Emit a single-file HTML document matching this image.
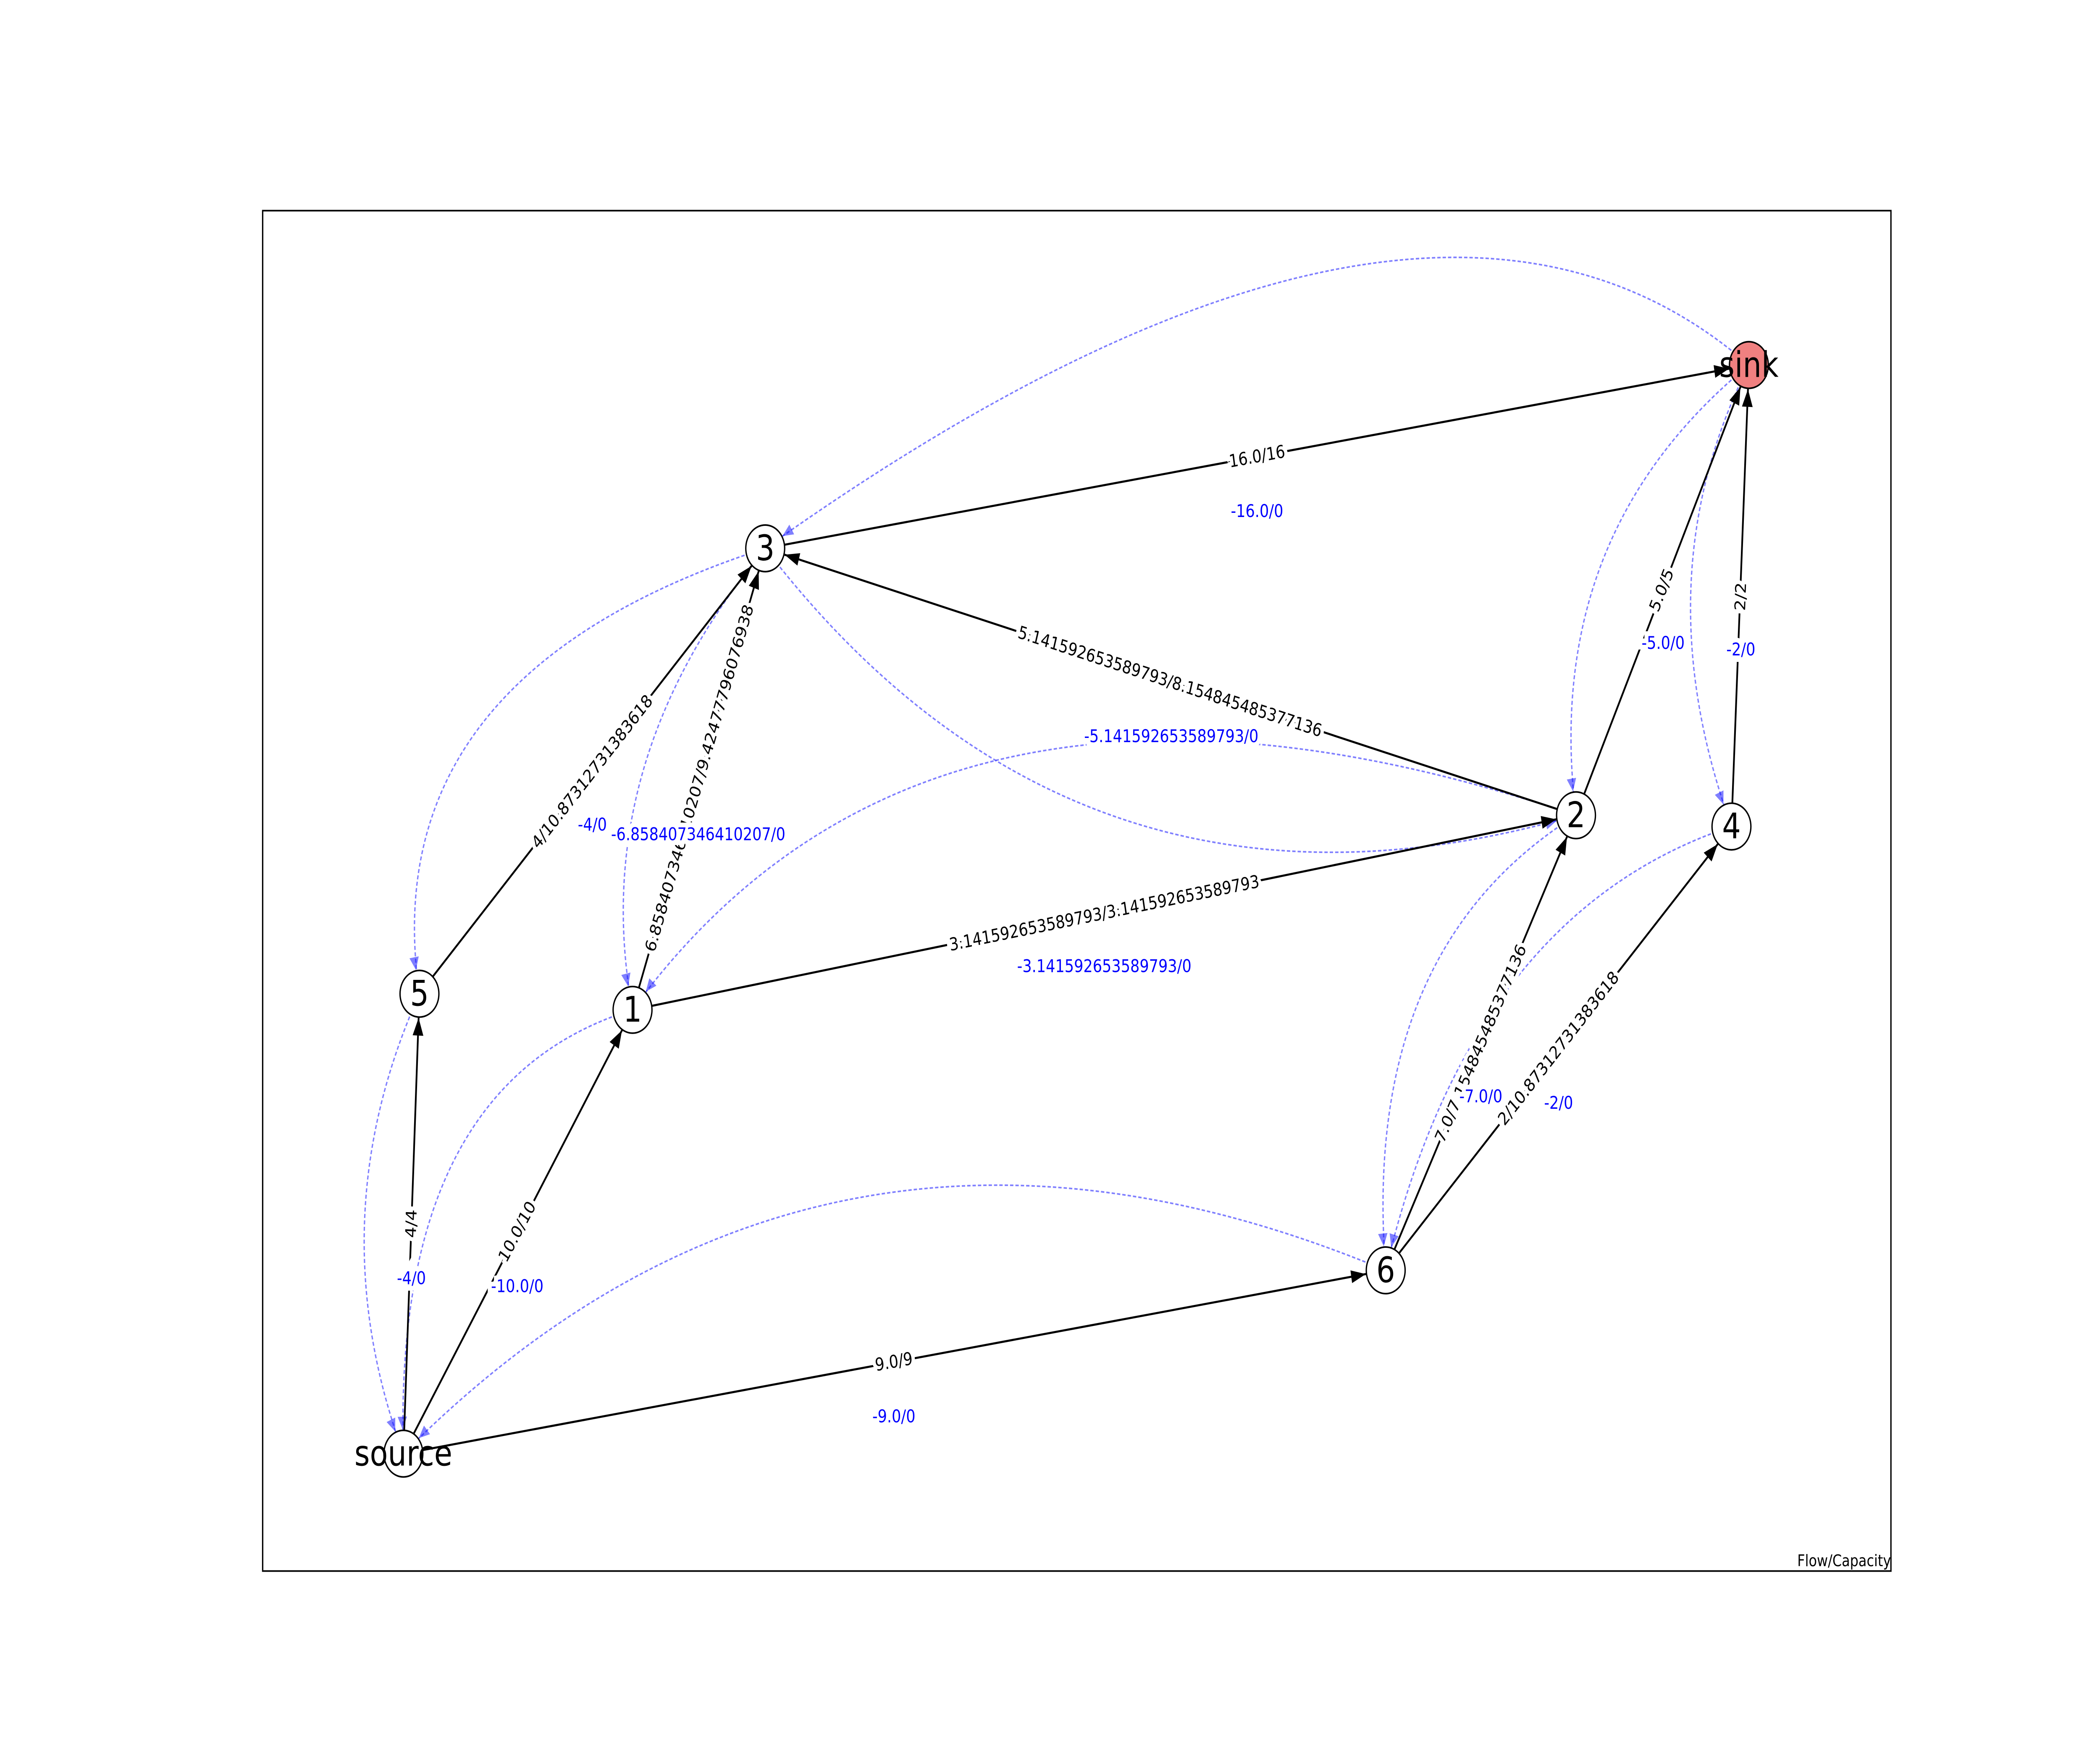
<!DOCTYPE html>
<html><head><meta charset="utf-8"><style>html,body{margin:0;padding:0;background:#fff;overflow:hidden;width:100vw;height:100vh}svg{display:block;width:100vw;height:100vh}</style></head>
<body>
<svg xmlns="http://www.w3.org/2000/svg" viewBox="0 0 1567 1097" preserveAspectRatio="none" font-family="'DejaVu Sans','Liberation Sans',sans-serif">
<defs>
<marker id="ab" markerUnits="userSpaceOnUse" markerWidth="20" markerHeight="20" refX="15" refY="0" orient="auto" overflow="visible"><path d="M0,0 L-11,-4 L-11,4 Z" fill="#000"/></marker>
<marker id="abl" markerUnits="userSpaceOnUse" markerWidth="20" markerHeight="20" refX="15" refY="0" orient="auto" overflow="visible"><path d="M0,0 L-8,-3.5 L-8,3.5 Z" fill="rgba(0,0,255,0.5)"/></marker>
</defs>
<rect width="1567" height="1097" fill="#fff"/>
<rect x="196" y="131" width="1215" height="846" fill="none" stroke="#000" stroke-width="1"/>
<text x="1411" y="974" font-size="10" text-anchor="end">Flow/Capacity</text>

<g fill="none" stroke="rgba(0,0,255,0.5)" stroke-width="1" stroke-dasharray="2.5,1.5" marker-end="url(#abl)">
<path d="M1305,227 Q1062,50 571,341"/>
<path d="M571,341 Q278,420 313,618"/>
<path d="M571,341 Q438,475 472,628"/>
<path d="M571,341 Q806,596 1176,507"/>
<path d="M1176,507 Q696,372 472,628"/>
<path d="M1305,227 Q1150,333 1176,507"/>
<path d="M1305,227 Q1225,360 1292,514"/>
<path d="M1176,507 Q1015,591 1034,790"/>
<path d="M1292,514 Q1097,568 1034,790"/>
<path d="M1034,790 Q612,643 301,904"/>
<path d="M472,628 Q293,674 301,904"/>
<path d="M313,618 Q237,759 301,904"/>
</g>

<g stroke="#000" stroke-width="1.3" marker-end="url(#ab)">
<line x1="571" y1="341" x2="1305" y2="227"/>
<line x1="1176" y1="507" x2="571" y2="341"/>
<line x1="472" y1="628" x2="1176" y2="507"/>
<line x1="472" y1="628" x2="571" y2="341"/>
<line x1="313" y1="618" x2="571" y2="341"/>
<line x1="301" y1="904" x2="313" y2="618"/>
<line x1="301" y1="904" x2="472" y2="628"/>
<line x1="301" y1="904" x2="1034" y2="790"/>
<line x1="1034" y1="790" x2="1176" y2="507"/>
<line x1="1034" y1="790" x2="1292" y2="514"/>
<line x1="1176" y1="507" x2="1305" y2="227"/>
<line x1="1292" y1="514" x2="1305" y2="227"/>
</g>

<g font-size="11" text-anchor="middle" dominant-baseline="central" fill="#000" stroke="#fff" stroke-width="5" paint-order="stroke">
<text transform="translate(938,284) rotate(-8.8)">16.0/16</text>
<text transform="translate(873,424) rotate(15.3)">5.141592653589793/8.154845485377136</text>
<text transform="translate(824,568) rotate(-9.75)">3.141592653589793/3.141592653589793</text>
<text transform="translate(522,484) rotate(-71)">6.858407346410207/9.42477796076938</text>
<text transform="translate(442,480) rotate(-47)">4/10.87312731383618</text>
<text transform="translate(307,761) rotate(-87.6)">4/4</text>
<text transform="translate(386,766) rotate(-58)">10.0/10</text>
<text transform="translate(667,847) rotate(-8.8)">9.0/9</text>
<text transform="translate(1105,649) rotate(-63)">7.0/7.154845485377136</text>
<text transform="translate(1163,652) rotate(-47)">2/10.87312731383618</text>
<text transform="translate(1240,367) rotate(-65)">5.0/5</text>
<text transform="translate(1299,371) rotate(-87.4)">2/2</text>
</g>
<g font-size="11" text-anchor="middle" dominant-baseline="central" fill="#0000ff" stroke="#fff" stroke-width="6" paint-order="stroke">
<text x="938" y="318">-16.0/0</text>
<text x="874" y="458">-5.141592653589793/0</text>
<text x="824" y="601">-3.141592653589793/0</text>
<text x="521" y="519">-6.858407346410207/0</text>
<text x="442" y="513">-4/0</text>
<text x="307" y="795">-4/0</text>
<text x="386" y="800">-10.0/0</text>
<text x="667" y="881">-9.0/0</text>
<text x="1105" y="682">-7.0/0</text>
<text x="1163" y="686">-2/0</text>
<text x="1241" y="400">-5.0/0</text>
<text x="1299" y="404">-2/0</text>
</g>

<g stroke="#000" stroke-width="1">
<circle cx="1305" cy="227" r="14.5" fill="#f08080"/>
<circle cx="571" cy="341" r="14.5" fill="#fff"/>
<circle cx="1176" cy="507" r="14.5" fill="#fff"/>
<circle cx="1292" cy="514" r="14.5" fill="#fff"/>
<circle cx="313" cy="618" r="14.5" fill="#fff"/>
<circle cx="472" cy="628" r="14.5" fill="#fff"/>
<circle cx="1034" cy="790" r="14.5" fill="#fff"/>
<circle cx="301" cy="904" r="14.5" fill="#fff"/>
</g>
<g font-size="22" text-anchor="middle" dominant-baseline="central" fill="#000">
<text x="1305" y="227">sink</text>
<text x="571" y="341">3</text>
<text x="1176" y="507">2</text>
<text x="1292" y="514">4</text>
<text x="313" y="618">5</text>
<text x="472" y="628">1</text>
<text x="1034" y="790">6</text>
<text x="301" y="904">source</text>
</g>
</svg>
</body></html>
